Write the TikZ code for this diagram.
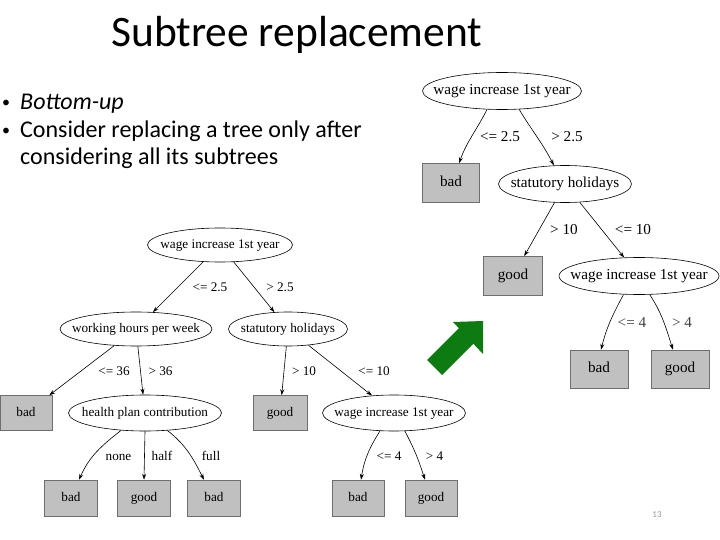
\documentclass[tikz,border=0pt]{standalone}
\usepackage{fontspec}
\setmainfont{Liberation Serif}
\newfontfamily\calfont{Carlito}
\usetikzlibrary{shapes.geometric,arrows.meta}
\definecolor{boxgray}{RGB}{192,192,192}
\definecolor{boxedge}{RGB}{110,110,110}
\definecolor{arrowgreen}{RGB}{14,122,18}
\newcommand\zw[1]{\makebox[0pt]{#1}}
\tikzset{
  lfont/.style={font=\fontsize{13.2}{15}\selectfont, text height=9pt, text depth=2.8pt},
  rfont/.style={font=\fontsize{15.2}{17}\selectfont, text height=10.4pt, text depth=3.2pt},
  attr/.style={ellipse, draw=black, line width=0.6pt, inner sep=0pt},
  leaf/.style={rectangle, fill=boxgray, draw=boxedge, line width=0.5pt, inner sep=0pt},
  edge/.style={draw=black, line width=0.6pt, -{Stealth[length=6pt,width=4pt]}},
  lab/.style={anchor=base, inner sep=0pt, font=\fontsize{13.2}{15}\selectfont},
  rlab/.style={anchor=base, inner sep=0pt, font=\fontsize{15.2}{17}\selectfont},
  bul/.style={anchor=base west, inner sep=0pt, font=\calfont\fontsize{24}{28}\selectfont},
}
\begin{document}
\begin{tikzpicture}[x=1pt,y=1pt]
\useasboundingbox (0,0) rectangle (720,-540);
% title and bullets
\node[anchor=base west, inner sep=0pt, font=\calfont\fontsize{43.5}{50}\selectfont] (title) at (111,-47) {Subtree replacement};
\node[bul, font=\calfont\fontsize{16}{20}\selectfont] (d1) at (2,-108) {•};
\node[bul] (b1) at (20,-110) {\textit{Bottom-up}};
\node[bul, font=\calfont\fontsize{16}{20}\selectfont] (d2) at (2,-136) {•};
\node[bul] (b2) at (20,-138) {Consider replacing a tree only after};
\node[bul] (b3) at (20,-165) {considering all its subtrees};

% left tree
\node[attr, lfont, minimum width=145pt, minimum height=34pt] (L0) at (220,-245) {\zw{wage increase 1st year}};
\node[attr, lfont, minimum width=152pt, minimum height=34pt] (L1) at (136,-329) {\zw{working hours per week}};
\node[attr, lfont, minimum width=119pt, minimum height=34pt] (L2) at (288,-329) {\zw{statutory holidays}};
\node[leaf, lfont, minimum width=52pt, minimum height=35pt] (L3) at (26,-413) {bad};
\node[attr, lfont, minimum width=153pt, minimum height=36pt] (L4) at (145,-413) {\zw{health plan contribution}};
\node[leaf, lfont, minimum width=54pt, minimum height=35pt] (L5) at (280,-413) {good};
\node[attr, lfont, minimum width=143pt, minimum height=36pt] (L6) at (394,-413) {\zw{wage increase 1st year}};
\node[leaf, lfont, minimum width=53pt, minimum height=36pt] (L7) at (71,-498) {bad};
\node[leaf, lfont, minimum width=53pt, minimum height=36pt] (L8) at (144,-498) {good};
\node[leaf, lfont, minimum width=53pt, minimum height=36pt] (L9) at (214,-498) {bad};
\node[leaf, lfont, minimum width=52pt, minimum height=36pt] (L10) at (358,-498) {bad};
\node[leaf, lfont, minimum width=52pt, minimum height=36pt] (L11) at (431,-498) {good};

\draw[edge] (L0) -- (L1);
\draw[edge] (L0) -- (L2);
\draw[edge] (L1) -- (L3);
\draw[edge] (L1) -- (L4);
\draw[edge] (L2) -- (L5);
\draw[edge] (L2) -- (L6);
\draw[edge] (L4.-144) to[out=-142,in=66] ([xshift=8pt]L7.north);
\draw[edge] (L4.south) -- (L8.north);
\draw[edge] (L4.-38) to[out=-38,in=117] ([xshift=-10pt]L9.north);
\draw[edge] (L6.-128) to[out=-122,in=81] ([xshift=3pt]L10.north);
\draw[edge] (L6.-59) to[out=-62,in=108] ([xshift=-6pt]L11.north);

\node[lab] (l1) at (210,-291) {<= 2.5};
\node[lab] (l2) at (280,-291) {> 2.5};
\node[lab] (l3) at (114,-375) {<= 36};
\node[lab] (l4) at (160.5,-375) {> 36};
\node[lab] (l5) at (304,-375) {> 10};
\node[lab] (l6) at (374,-375) {<= 10};
\node[lab] (l7) at (118.5,-460) {none};
\node[lab] (l8) at (162,-460) {half};
\node[lab] (l9) at (211,-460) {full};
\node[lab] (l10) at (389,-460) {<= 4};
\node[lab] (l11) at (434.5,-460) {> 4};

% right tree
\node[attr, rfont, minimum width=159pt, minimum height=37pt] (R0) at (502,-91) {\zw{wage increase 1st year}};
\node[leaf, rfont, minimum width=57pt, minimum height=39pt] (R1) at (451,-183) {bad};
\node[attr, rfont, minimum width=133pt, minimum height=37pt] (R2) at (565,-184) {\zw{statutory holidays}};
\node[leaf, rfont, minimum width=59pt, minimum height=39pt] (R3) at (513,-276) {good};
\node[attr, rfont, minimum width=160pt, minimum height=37pt] (R4) at (639,-276) {\zw{wage increase 1st year}};
\node[leaf, rfont, minimum width=58pt, minimum height=38pt] (R5) at (599,-369) {bad};
\node[leaf, rfont, minimum width=58pt, minimum height=38pt] (R6) at (680,-369) {good};

\draw[edge] (R0.-129) to[out=-117,in=70] ([xshift=8pt]R1.north);
\draw[edge] (R0.-47) to[out=-59,in=117] (R2.121);
\draw[edge] (R2) -- (R3);
\draw[edge] (R2) -- (R4);
\draw[edge] (R4.-130) to[out=-118,in=76] ([xshift=2pt]R5.north);
\draw[edge] (R4.-60) to[out=-57,in=108] ([xshift=-7pt]R6.north);

\node[rlab] (r1) at (500,-142) {<= 2.5};
\node[rlab] (r2) at (567,-142) {> 2.5};
\node[rlab] (r3) at (564,-234) {> 10};
\node[rlab] (r4) at (633,-234) {<= 10};
\node[rlab, text=black!75] (r5) at (632,-327) {<= 4};
\node[rlab, text=black!75] (r6) at (682,-327) {> 4};

% green arrow
\fill[arrowgreen] (483,-321) -- (453,-322) -- (458.8,-328.2) -- (427,-360) -- (442,-375) -- (473.3,-343.7) -- (483,-354) -- cycle;

% page number
\node[inner sep=0pt, font=\calfont\fontsize{9}{10}\selectfont, text=black!40] (pg) at (657,-515) {13};
\end{tikzpicture}
\end{document}
